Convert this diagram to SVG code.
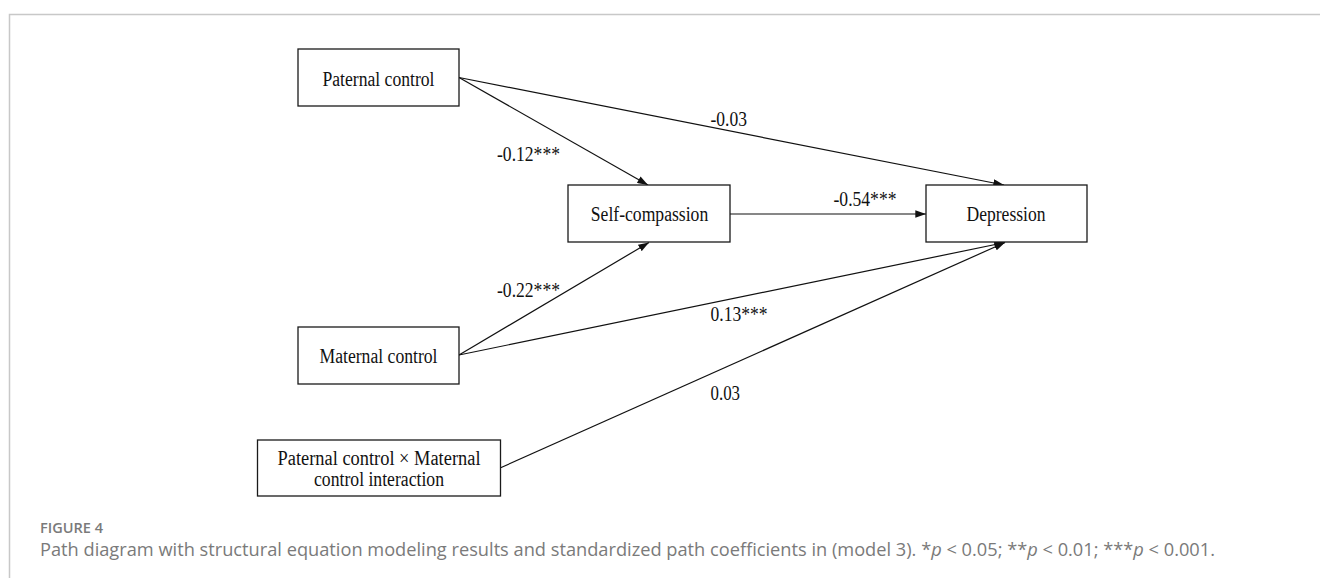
<svg xmlns="http://www.w3.org/2000/svg" width="1320" height="578" viewBox="0 0 1320 578">
  <style>
    .box { fill: #ffffff; stroke: #1a1a1a; stroke-width: 1.3; }
    .lbl { font-family: "Liberation Serif", "Times New Roman", serif; font-size: 20.5px; fill: #111111; }
    .coef { font-family: "Liberation Serif", "Times New Roman", serif; font-size: 20.5px; fill: #111111; }
    .edge { stroke: #111111; stroke-width: 1.2; fill: none; marker-end: url(#arr); }
    .cap { font-family: "Open Sans", "Noto Sans", sans-serif; fill: #7a7a7a; }
  </style>
  <defs>
    <marker id="arr" viewBox="0 0 10 7" markerWidth="11" markerHeight="7.5" refX="10" refY="3.5" orient="auto" markerUnits="userSpaceOnUse">
      <path d="M0,0 L10,3.5 L0,7 z" fill="#111111"/>
    </marker>
  </defs>
  <rect width="1320" height="578" fill="#ffffff"/>
  <path d="M9.5,578 L9.5,14.5 L1320,14.5" fill="none" stroke="#c8c8c8" stroke-width="1.5"/>

  <g id="connectors">
    <line class="edge" x1="459" y1="77.5" x2="648" y2="185"/>
    <line class="edge" x1="459" y1="77.5" x2="1004" y2="185"/>
    <line class="edge" x1="730" y1="214" x2="926" y2="214"/>
    <line class="edge" x1="459" y1="355" x2="649" y2="242.5"/>
    <line class="edge" x1="459" y1="355" x2="1005" y2="242.5"/>
    <line class="edge" x1="500" y1="468" x2="1005" y2="242.5"/>
    <text class="coef" x="497" y="161" textLength="63" lengthAdjust="spacingAndGlyphs">-0.12***</text>
    <text class="coef" x="710.5" y="126" textLength="36.5" lengthAdjust="spacingAndGlyphs">-0.03</text>
    <text class="coef" x="833.5" y="206" textLength="63" lengthAdjust="spacingAndGlyphs">-0.54***</text>
    <text class="coef" x="497" y="297" textLength="63" lengthAdjust="spacingAndGlyphs">-0.22***</text>
    <text class="coef" x="710.5" y="321" textLength="57" lengthAdjust="spacingAndGlyphs">0.13***</text>
    <text class="coef" x="710.5" y="400" textLength="29.5" lengthAdjust="spacingAndGlyphs">0.03</text>
  </g>

  <g id="paternal">
    <rect class="box" x="298" y="49" width="161" height="57"/>
    <text class="lbl" x="378.5" y="85.5" text-anchor="middle" textLength="112" lengthAdjust="spacingAndGlyphs">Paternal control</text>
  </g>
  <g id="selfcompassion">
    <rect class="box" x="568" y="185" width="162" height="57"/>
    <text class="lbl" x="649.5" y="220.5" text-anchor="middle" textLength="117.5" lengthAdjust="spacingAndGlyphs">Self-compassion</text>
  </g>
  <g id="depression">
    <rect class="box" x="926" y="185" width="161" height="57"/>
    <text class="lbl" x="1006" y="220.5" text-anchor="middle" textLength="79" lengthAdjust="spacingAndGlyphs">Depression</text>
  </g>
  <g id="maternal">
    <rect class="box" x="298" y="327" width="161" height="57"/>
    <text class="lbl" x="378.5" y="362.5" text-anchor="middle" textLength="118" lengthAdjust="spacingAndGlyphs">Maternal control</text>
  </g>
  <g id="interaction">
    <rect class="box" x="257.5" y="440" width="243" height="56"/>
    <text class="lbl" x="379" y="465" text-anchor="middle" textLength="203" lengthAdjust="spacingAndGlyphs">Paternal control × Maternal</text>
    <text class="lbl" x="379" y="485.5" text-anchor="middle" textLength="130" lengthAdjust="spacingAndGlyphs">control interaction</text>
  </g>

  <g id="caption">
    <text class="cap" x="40" y="533" font-size="14" font-weight="600" textLength="63" lengthAdjust="spacingAndGlyphs">FIGURE 4</text>
    <text class="cap" x="40" y="556" font-size="18" textLength="1175" lengthAdjust="spacingAndGlyphs">Path diagram with structural equation modeling results and standardized path coefficients in (model 3). *<tspan font-style="italic">p</tspan> &lt; 0.05; **<tspan font-style="italic">p</tspan> &lt; 0.01; ***<tspan font-style="italic">p</tspan> &lt; 0.001.</text>
  </g>
</svg>
